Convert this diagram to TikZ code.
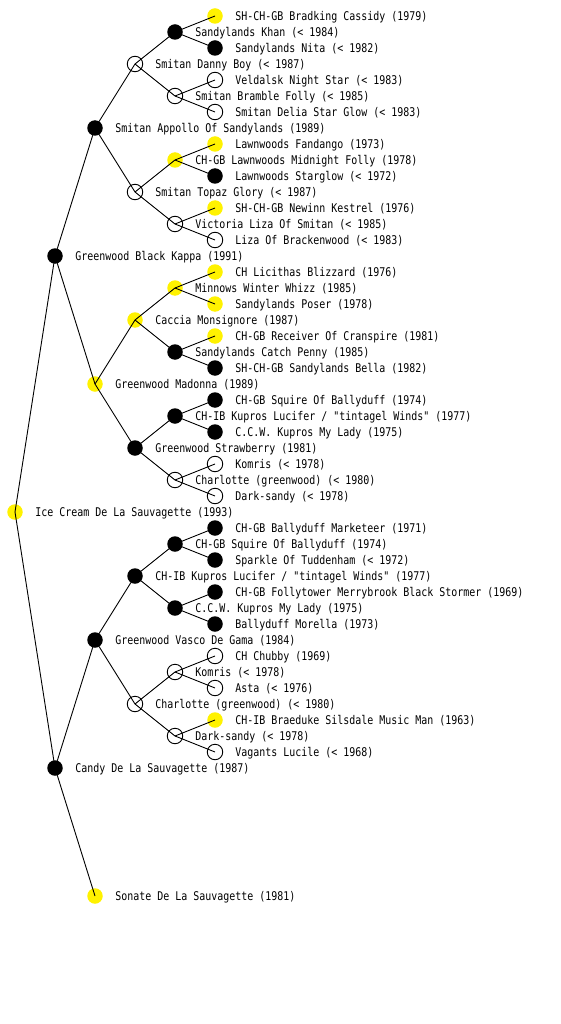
\documentclass[tikz,border=0pt]{standalone}
\usepackage{fontspec}
\newfontfamily\pedfont[FakeStretch=0.83]{DejaVu Sans Mono}

\begin{document}
\begin{tikzpicture}[x=1pt, y=-1pt, line width=0.9pt]

  \tikzset{dog/.style={circle, minimum size=15.5pt, inner sep=0pt},
           yel/.style={dog, fill=yellow},
           blk/.style={dog, fill=black},
           wht/.style={dog, draw, fill=white},
           lbl/.style={anchor=west, inner sep=0pt, text height=8.5pt, text depth=0pt,
                       font=\pedfont\fontsize{12}{12}\selectfont}}

  \useasboundingbox (0,0) rectangle (560,1024);

  % dog and parents, one generation after the other
  \foreach \n/\x/\y/\s/\t in {
      a1/15/512/yel/Ice Cream De La Sauvagette (1993),
      b1/55/256/blk/Greenwood Black Kappa (1991),
      b2/55/768/blk/Candy De La Sauvagette (1987),
      c1/95/128/blk/Smitan Appollo Of Sandylands (1989),
      c2/95/384/yel/Greenwood Madonna (1989),
      c3/95/640/blk/Greenwood Vasco De Gama (1984),
      c4/95/896/yel/Sonate De La Sauvagette (1981),
      d1/135/64/wht/Smitan Danny Boy (< 1987),
      d2/135/192/wht/Smitan Topaz Glory (< 1987),
      d3/135/320/yel/Caccia Monsignore (1987),
      d4/135/448/blk/Greenwood Strawberry (1981),
      d5/135/576/blk/{CH-IB Kupros Lucifer / "tintagel Winds" (1977)},
      d6/135/704/wht/Charlotte (greenwood) (< 1980),
      e1/175/32/blk/Sandylands Khan (< 1984),
      e2/175/96/wht/Smitan Bramble Folly (< 1985),
      e3/175/160/yel/CH-GB Lawnwoods Midnight Folly (1978),
      e4/175/224/wht/Victoria Liza Of Smitan (< 1985),
      e5/175/288/yel/Minnows Winter Whizz (1985),
      e6/175/352/blk/Sandylands Catch Penny (1985),
      e7/175/416/blk/{CH-IB Kupros Lucifer / "tintagel Winds" (1977)},
      e8/175/480/wht/Charlotte (greenwood) (< 1980),
      e9/175/544/blk/CH-GB Squire Of Ballyduff (1974),
      e10/175/608/blk/C.C.W. Kupros My Lady (1975),
      e11/175/672/wht/Komris (< 1978),
      e12/175/736/wht/Dark-sandy (< 1978),
      f1/215/16/yel/SH-CH-GB Bradking Cassidy (1979),
      f2/215/48/blk/Sandylands Nita (< 1982),
      f3/215/80/wht/Veldalsk Night Star (< 1983),
      f4/215/112/wht/Smitan Delia Star Glow (< 1983),
      f5/215/144/yel/Lawnwoods Fandango (1973),
      f6/215/176/blk/Lawnwoods Starglow (< 1972),
      f7/215/208/yel/SH-CH-GB Newinn Kestrel (1976),
      f8/215/240/wht/Liza Of Brackenwood (< 1983),
      f9/215/272/yel/CH Licithas Blizzard (1976),
      f10/215/304/yel/Sandylands Poser (1978),
      f11/215/336/yel/CH-GB Receiver Of Cranspire (1981),
      f12/215/368/blk/SH-CH-GB Sandylands Bella (1982),
      f13/215/400/blk/CH-GB Squire Of Ballyduff (1974),
      f14/215/432/blk/C.C.W. Kupros My Lady (1975),
      f15/215/464/wht/Komris (< 1978),
      f16/215/496/wht/Dark-sandy (< 1978),
      f17/215/528/blk/CH-GB Ballyduff Marketeer (1971),
      f18/215/560/blk/Sparkle Of Tuddenham (< 1972),
      f19/215/592/blk/CH-GB Follytower Merrybrook Black Stormer (1969),
      f20/215/624/blk/Ballyduff Morella (1973),
      f21/215/656/wht/CH Chubby (1969),
      f22/215/688/wht/Asta (< 1976),
      f23/215/720/yel/CH-IB Braeduke Silsdale Music Man (1963),
      f24/215/752/wht/Vagants Lucile (< 1968)} {
    \node[\s] (\n) at (\x,\y) {};
    \node[lbl] (t\n) at (\x+20,\y) {\t};
  }

  % each dog to its sire and dam
  \foreach \p/\k/\m in {a/b/1, b/c/2, c/d/3, d/e/6, e/f/12} {
    \foreach \i in {1,...,\m} {
      \pgfmathtruncatemacro\sire{2*\i-1}
      \pgfmathtruncatemacro\dam{2*\i}
      \draw (\p\i.center) -- (\k\sire.center);
      \draw (\p\i.center) -- (\k\dam.center);
    }
  }

\end{tikzpicture}
\end{document}
